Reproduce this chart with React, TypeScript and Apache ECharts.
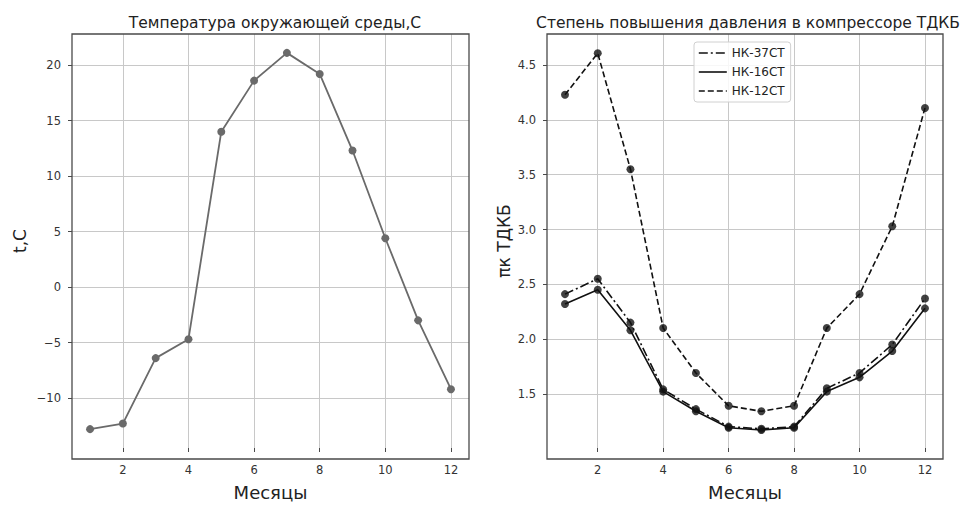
import React, { useEffect, useRef } from "react";
import * as echarts from "echarts";

const months = [1, 2, 3, 4, 5, 6, 7, 8, 9, 10, 11, 12];
const temperature = [-12.8, -12.3, -6.4, -4.7, 14.0, 18.6, 21.1, 19.2, 12.3, 4.4, -3.0, -9.2];
const nk37 = [2.41, 2.55, 2.15, 1.54, 1.36, 1.2, 1.18, 1.2, 1.55, 1.69, 1.95, 2.37];
const nk16 = [2.32, 2.45, 2.08, 1.52, 1.34, 1.19, 1.17, 1.19, 1.52, 1.65, 1.89, 2.28];
const nk12 = [4.23, 4.61, 3.55, 2.1, 1.69, 1.39, 1.34, 1.39, 2.1, 2.41, 3.03, 4.11];
const seriesNames = ["НК-37СТ", "НК-16СТ", "НК-12СТ"];
const xTicks = [2, 4, 6, 8, 10, 12];
const leftYTicks = [-10, -5, 0, 5, 10, 15, 20];
const rightYTicks = [1.5, 2.0, 2.5, 3.0, 3.5, 4.0, 4.5];
const leftTitle = "Температура окружающей среды,С";
const rightTitle = "Степень повышения давления в компрессоре ТДКБ";
const xName = "Месяцы";
const leftYName = "t,C";
const rightYName = "πк ТДКБ";

const FONT = "DejaVu Sans";

const pairs = (vals: number[]) => months.map((m, i) => [m, vals[i]]);
const near = (a: number, b: number) => Math.abs(a - b) < 1e-6;

export default function App() {
  const ref = useRef<HTMLDivElement>(null);
  useEffect(() => {
    if (!ref.current) return;
    const chart = echarts.init(ref.current, undefined, { renderer: "svg" });
    const axisLabel = { color: "#333", fontFamily: FONT, fontSize: 11.5 };
    const splitLine = { show: true, lineStyle: { color: "#c8c8c8", width: 1 } };
    const tickStyle = { show: true, length: 4, lineStyle: { color: "#4a4a4a", width: 1 } };
    const xAxisCommon = (gridIndex: number) => ({
      type: "value",
      gridIndex,
      position: "bottom",
      min: 0.45,
      max: 12.55,
      minInterval: 2,
      maxInterval: 2,
      axisLine: { show: false, onZero: false },
      axisTick: { ...tickStyle, customValues: xTicks },
      splitLine,
      axisLabel: {
        ...axisLabel,
        margin: 16,
        formatter: (v: number) => (near(v, Math.round(v)) && Math.round(v) % 2 === 0 ? String(Math.round(v)) : ""),
      },
      name: xName,
      nameLocation: "middle",
      nameGap: 35,
      nameTextStyle: { fontFamily: FONT, fontSize: 18, color: "#222" },
    });
    const lineBlack = "#111";
    const dashDot = [9, 3, 2, 3];
    const dashed = [6, 3];
    const titleStyle = { fontFamily: FONT, fontSize: 15.5, fontWeight: "normal", color: "#222" };
    const frameRect = (x: number, y: number, w: number, h: number) => ({
      type: "rect",
      shape: { x, y, width: w, height: h },
      style: { fill: "none", stroke: "#4a4a4a", lineWidth: 1.3 },
      z: 100,
      silent: true,
    });
    const option: any = {
      animation: false,
      backgroundColor: "#fff",
      title: [
        { text: leftTitle, left: 270, top: 10, textAlign: "center", textStyle: titleStyle },
        { text: rightTitle, left: 743, top: 10, textAlign: "center", textStyle: titleStyle },
      ],
      legend: {
        data: [
          { name: seriesNames[0], itemStyle: { opacity: 0 }, lineStyle: { type: dashDot, width: 1.6, color: lineBlack } },
          { name: seriesNames[1], itemStyle: { opacity: 0 }, lineStyle: { type: "solid", width: 1.6, color: lineBlack } },
          { name: seriesNames[2], itemStyle: { opacity: 0 }, lineStyle: { type: dashed, width: 1.6, color: lineBlack } },
        ],
        orient: "vertical",
        left: 694,
        top: 42,
        itemWidth: 28,
        itemHeight: 12,
        itemGap: 7,
        padding: [5, 6, 5, 4],
        borderColor: "#d0d0d0",
        borderWidth: 1,
        borderRadius: 3,
        backgroundColor: "rgba(255,255,255,0.85)",
        itemStyle: { opacity: 0 },
        textStyle: { fontFamily: FONT, fontSize: 12, color: "#222" },
      },
      grid: [
        { left: 72, top: 34, width: 397, height: 425, show: true, borderWidth: 0, backgroundColor: "#fff" },
        { left: 547, top: 34, width: 396, height: 425, show: true, borderWidth: 0, backgroundColor: "#fff" },
      ],
      graphic: [frameRect(72, 34, 397, 425), frameRect(547, 34, 396, 425)],
      xAxis: [xAxisCommon(0), xAxisCommon(1)],
      yAxis: [
        {
          type: "value",
          gridIndex: 0,
          position: "left",
          min: -14.5,
          max: 22.8,
          minInterval: 5,
          maxInterval: 5,
          axisLine: { show: false, onZero: false },
          axisTick: { ...tickStyle, customValues: leftYTicks },
          splitLine,
          axisLabel: {
            ...axisLabel,
            margin: 11,
            formatter: (v: number) => (near(v / 5, Math.round(v / 5)) ? String(Math.round(v)).replace("-", "\u2212") : ""),
          },
          name: leftYName,
          nameLocation: "middle",
          nameGap: 44,
          nameRotate: 90,
          nameTextStyle: { fontFamily: FONT, fontSize: 17, color: "#222" },
        },
        {
          type: "value",
          gridIndex: 1,
          position: "left",
          min: 1.005,
          max: 4.785,
          minInterval: 0.5,
          maxInterval: 0.5,
          axisLine: { show: false, onZero: false },
          axisTick: { ...tickStyle, customValues: rightYTicks },
          splitLine,
          axisLabel: {
            ...axisLabel,
            margin: 11,
            formatter: (v: number) => (near(v * 2, Math.round(v * 2)) ? v.toFixed(1) : ""),
          },
          name: rightYName,
          nameLocation: "middle",
          nameGap: 35,
          nameRotate: 90,
          nameTextStyle: { fontFamily: FONT, fontSize: 17, color: "#222" },
        },
      ],
      series: [
        {
          type: "line",
          name: "t",
          xAxisIndex: 0,
          yAxisIndex: 0,
          data: pairs(temperature),
          symbol: "circle",
          symbolSize: 8,
          showSymbol: true,
          lineStyle: { color: "#6a6a6a", width: 1.8 },
          itemStyle: { color: "#6a6a6a" },
        },
        {
          type: "line",
          name: seriesNames[0],
          xAxisIndex: 1,
          yAxisIndex: 1,
          data: pairs(nk37),
          symbol: "none",
          lineStyle: { color: lineBlack, width: 1.6, type: dashDot },
          itemStyle: { color: lineBlack },
        },
        {
          type: "line",
          name: seriesNames[1],
          xAxisIndex: 1,
          yAxisIndex: 1,
          data: pairs(nk16),
          symbol: "none",
          lineStyle: { color: lineBlack, width: 1.6, type: "solid" },
          itemStyle: { color: lineBlack },
        },
        {
          type: "line",
          name: seriesNames[2],
          xAxisIndex: 1,
          yAxisIndex: 1,
          data: pairs(nk12),
          symbol: "none",
          lineStyle: { color: lineBlack, width: 1.6, type: dashed },
          itemStyle: { color: lineBlack },
        },
        ...[nk37, nk16, nk12].map((vals) => ({
          type: "scatter",
          xAxisIndex: 1,
          yAxisIndex: 1,
          data: pairs(vals),
          symbol: "circle",
          symbolSize: 8,
          itemStyle: { color: lineBlack },
          z: 3,
        })),
      ],
    };
    chart.setOption(option);
    return () => chart.dispose();
  }, []);
  return <div ref={ref} style={{ position: "fixed", left: 0, top: 0, width: 961, height: 506, background: "#fff" }} />;
}
